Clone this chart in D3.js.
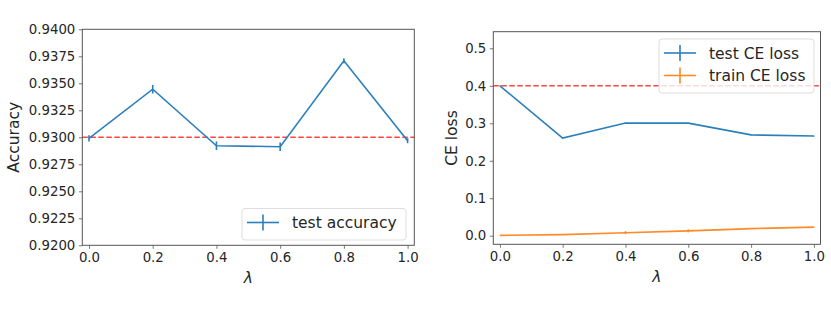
<!DOCTYPE html>
<meta charset="utf-8">
<head>
<script src="https://d3js.org/d3.v7.min.js"></script>
<style>
  body { margin: 0; background: #fff; }
  text { font-family: "DejaVu Sans", sans-serif; fill: #262626; }
</style>
</head>
<body>
<svg id="chart" width="831" height="311"></svg>
<script>
// lambda values shared by both panels
var lambdas = [0.0, 0.2, 0.4, 0.6, 0.8, 1.0];
var xTicks = [0.0, 0.2, 0.4, 0.6, 0.8, 1.0];

// left panel: test accuracy
var testAcc = [0.9299, 0.93445, 0.92922, 0.92913, 0.93708, 0.92968];
var testAccErr = [0.0003, 0.0004, 0.0004, 0.0004, 0.00023, 0.00023];
var accBaseline = 0.93;
var accTicks = [0.92, 0.9225, 0.925, 0.9275, 0.93, 0.9325, 0.935, 0.9375, 0.94];

// right panel: CE losses
var testCE = [0.400, 0.2605, 0.3005, 0.3003, 0.269, 0.266];
var testCEErr = [0.001, 0.001, 0.001, 0.001, 0.001, 0.001];
var trainCE = [0.001, 0.003, 0.008, 0.013, 0.019, 0.023];
var trainCEErr = [0.0005, 0.0008, 0.004, 0.004, 0.001, 0.001];
var ceBaseline = 0.4;
var ceTicks = [0.0, 0.1, 0.2, 0.3, 0.4, 0.5];

var blue = "#2b7fbb", orange = "#ff8a26", red = "#ff4444";
var svg = d3.select("#chart");

function panel(opt) {
  var g = svg.append("g");
  var x = d3.scaleLinear().domain([-0.021, 1.021]).range([opt.left, opt.right]);
  var y = d3.scaleLinear().domain(opt.ydom).range([opt.bottom, opt.top]);

  // baseline
  g.append("line")
    .attr("x1", opt.left).attr("x2", opt.right)
    .attr("y1", y(opt.base)).attr("y2", y(opt.base))
    .attr("stroke", red).attr("stroke-width", 1.6)
    .attr("stroke-dasharray", "5.5,2.5");

  var line = d3.line().x(function(d){ return x(d[0]); }).y(function(d){ return y(d[1]); });
  opt.series.forEach(function(s) {
    var pts = lambdas.map(function(l, i){ return [l, s.vals[i], s.err[i]]; });
    g.append("path").datum(pts)
      .attr("d", line).attr("fill", "none")
      .attr("stroke", s.color).attr("stroke-width", 1.6);
    g.selectAll(null).data(pts).enter().append("line")
      .attr("x1", function(d){ return x(d[0]); })
      .attr("x2", function(d){ return x(d[0]); })
      .attr("y1", function(d){ return y(d[1] - d[2]); })
      .attr("y2", function(d){ return y(d[1] + d[2]); })
      .attr("stroke", s.color).attr("stroke-width", 1.6);
  });

  // axes
  var xa = g.append("g").attr("transform", "translate(0," + opt.bottom + ")")
    .call(d3.axisBottom(x).tickValues(xTicks).tickFormat(d3.format(".1f")).tickSizeOuter(0).tickSize(3.5).tickPadding(3.5));
  var ya = g.append("g").attr("transform", "translate(" + opt.left + ",0)")
    .call(d3.axisLeft(y).tickValues(opt.yticks).tickFormat(d3.format(opt.yfmt)).tickSizeOuter(0).tickSize(3.5).tickPadding(3.5));
  [xa, ya].forEach(function(a){
    a.select(".domain").remove();
    a.selectAll(".tick line").attr("stroke", "#555").attr("stroke-width", 0.8);
    a.selectAll(".tick text").attr("font-size", 13.3).attr("fill", "#262626");
  });

  g.append("rect")
    .attr("x", opt.left).attr("y", opt.top)
    .attr("width", opt.right - opt.left).attr("height", opt.bottom - opt.top)
    .attr("fill", "none").attr("stroke", "#555").attr("stroke-width", 1);

  // labels
  g.append("text")
    .attr("x", (opt.left + opt.right) / 2).attr("y", opt.bottom + 38)
    .attr("text-anchor", "middle").attr("font-size", 15.5).attr("font-style", "italic")
    .text("λ");
  g.append("text")
    .attr("transform", "translate(" + opt.ylabX + "," + ((opt.top + opt.bottom) / 2) + ") rotate(-90)")
    .attr("text-anchor", "middle").attr("font-size", 15.5)
    .text(opt.ylabel);

  // legend
  var lg = g.append("g").attr("transform", "translate(" + opt.leg[0] + "," + opt.leg[1] + ")");
  lg.append("rect")
    .attr("width", opt.leg[2]).attr("height", 9 + opt.series.length * 22.5)
    .attr("rx", 3).attr("fill", "#fff").attr("fill-opacity", 0.8)
    .attr("stroke", "#ddd").attr("stroke-width", 1);
  opt.series.forEach(function(s, i) {
    var cy = 14 + i * 22.5;
    lg.append("line").attr("x1", 5).attr("x2", 37).attr("y1", cy).attr("y2", cy)
      .attr("stroke", s.color).attr("stroke-width", 1.6);
    lg.append("line").attr("x1", 21).attr("x2", 21).attr("y1", cy - 8).attr("y2", cy + 8)
      .attr("stroke", s.color).attr("stroke-width", 1.6);
    lg.append("text").attr("x", 50).attr("y", cy + 5.5)
      .attr("font-size", 15.5).text(s.name);
  });
}

panel({
  left: 82.3, right: 414.3, top: 29.3, bottom: 245.3,
  ydom: [0.92, 0.94], yticks: accTicks, yfmt: ".4f",
  base: accBaseline, ylabel: "Accuracy", ylabX: 19,
  leg: [242, 208.5, 164],
  series: [{ name: "test accuracy", vals: testAcc, err: testAccErr, color: blue }]
});

panel({
  left: 493.3, right: 820.5, top: 31.7, bottom: 244.3,
  ydom: [-0.0229, 0.5443], yticks: ceTicks, yfmt: ".1f",
  base: ceBaseline, ylabel: "CE loss", ylabX: 457,
  leg: [659, 39, 155],
  series: [
    { name: "test CE loss", vals: testCE, err: testCEErr, color: blue },
    { name: "train CE loss", vals: trainCE, err: trainCEErr, color: orange }
  ]
});
</script>
</body>
